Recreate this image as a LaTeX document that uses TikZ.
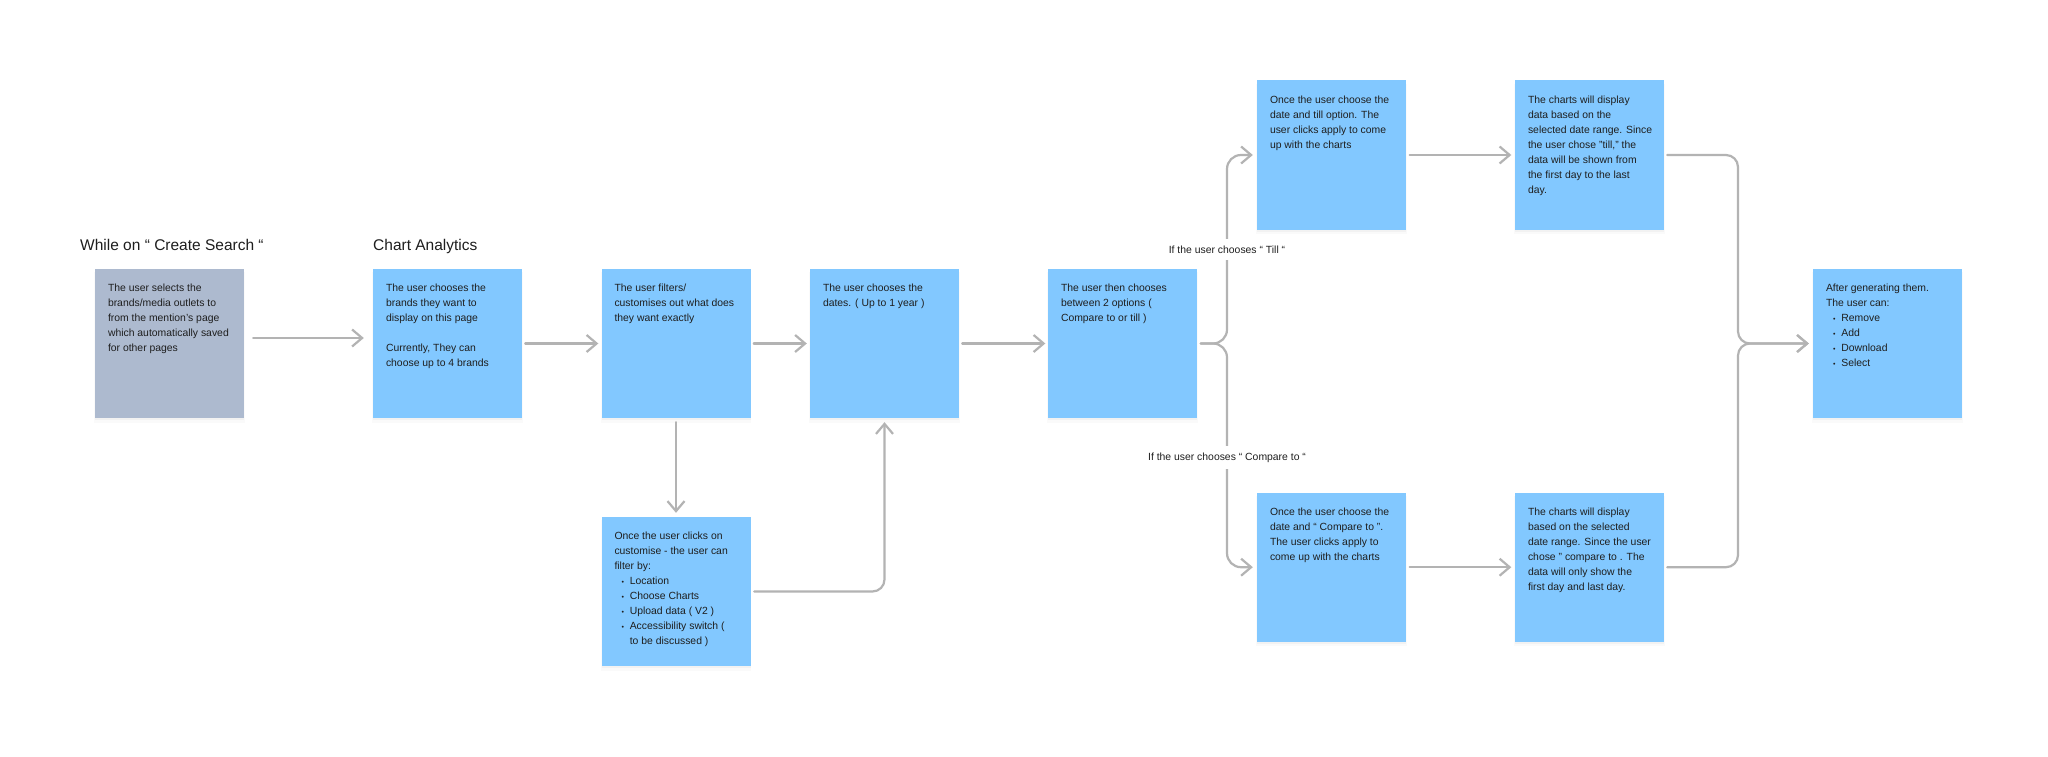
\documentclass[tikz,border=0pt]{standalone}
\usepackage{fontspec}
\setmainfont{Liberation Sans}
\usetikzlibrary{arrows.meta,shadows,calc}
\definecolor{boxblue}{HTML}{82C8FF}
\definecolor{boxgray}{HTML}{ADBACF}
\definecolor{linegray}{HTML}{B3B3B3}
\definecolor{txt}{HTML}{1E1E1E}
\newcommand{\bul}[1]{\hspace*{7pt}\makebox[8.3pt][l]{\raisebox{0.6pt}{\fontsize{7pt}{7pt}\selectfont •}}#1}
\newcommand{\bulcont}[1]{\hspace*{15.3pt}#1}
\newcommand{\cardtext}[1]{\parbox[t]{140pt}{\raggedright #1}}
\begin{document}
\begin{tikzpicture}[x=1pt,y=-1pt,
  card/.style={draw=none, fill=boxblue, minimum width=149pt, minimum height=149pt, inner sep=0pt,
    drop shadow={shadow xshift=0pt, shadow yshift=-2pt, opacity=0.06},
    drop shadow={shadow xshift=0pt, shadow yshift=-4pt, opacity=0.04, shadow scale=1.01}},
  graycard/.style={card, fill=boxgray},
  txtn/.style={anchor=base west, inner sep=0pt, text=txt, font=\fontsize{10.4pt}{15pt}\selectfont},
  conn/.style={draw=linegray, line width=2.2pt, line cap=round, line join=round,
    -{Straight Barb[length=10pt,width=17pt,line width=2.2pt]}},
  ttl/.style={anchor=base west, inner sep=0pt, text=txt, font=\fontsize{15.5pt}{18pt}\selectfont},
  lbl/.style={anchor=base, inner xsep=4pt, inner ysep=6.5pt, fill=white, text=txt, font=\fontsize{10.4pt}{12pt}\selectfont}
]
\useasboundingbox[fill=white] (0,0) rectangle (2048,757);

% titles
\node[ttl] (t1) at (80,250) {While on “ Create Search “};
\node[ttl] (t2) at (373,250) {Chart Analytics};

% cards
\node[graycard] (gray) at (169.5,343.5) {};
\node[card] (chart) at (447.5,343.5) {};
\node[card] (filter) at (676,343.5) {};
\node[card] (dates) at (884.5,343.5) {};
\node[card] (choice) at (1122.5,343.5) {};
\node[card] (custom) at (676,591.5) {};
\node[card] (till) at (1331.5,155) {};
\node[card] (tillres) at (1589.5,155) {};
\node[card] (comp) at (1331.5,567.2) {};
\node[card] (compres) at (1589.5,567.2) {};
\node[card] (final) at (1887.5,343.5) {};

% card texts
\node[txtn] (grayT) at ($(gray.north west)+(13,23)$) {\cardtext{The user selects the\\brands/media outlets to\\from the mention’s page\\which automatically saved\\for other pages}};
\node[txtn] (chartT) at ($(chart.north west)+(13,23)$) {\cardtext{The user chooses the\\brands they want to\\display on this page\\[15pt]Currently, They can\\choose up to 4 brands}};
\node[txtn] (filterT) at ($(filter.north west)+(13,23)$) {\cardtext{The user filters/\\customises out what does\\they want exactly}};
\node[txtn] (datesT) at ($(dates.north west)+(13,23)$) {\cardtext{The user chooses the\\dates. ( Up to 1 year )}};
\node[txtn] (choiceT) at ($(choice.north west)+(13,23)$) {\cardtext{The user then chooses\\between 2 options (\\Compare to or till )}};
\node[txtn] (customT) at ($(custom.north west)+(13,23)$) {\cardtext{Once the user clicks on\\customise - the user can\\filter by:\\\bul{Location}\\\bul{Choose Charts}\\\bul{Upload data ( V2 )}\\\bul{Accessibility switch (}\\\bulcont{to be discussed )}}};
\node[txtn] (tillT) at ($(till.north west)+(13,23)$) {\cardtext{Once the user choose the\\date and till option. The\\user clicks apply to come\\up with the charts}};
\node[txtn] (tillresT) at ($(tillres.north west)+(13,23)$) {\cardtext{The charts will display\\data based on the\\selected date range. Since\\the user chose "till," the\\data will be shown from\\the first day to the last\\day.}};
\node[txtn] (compT) at ($(comp.north west)+(13,23)$) {\cardtext{Once the user choose the\\date and “ Compare to ”.\\The user clicks apply to\\come up with the charts}};
\node[txtn] (compresT) at ($(compres.north west)+(13,23)$) {\cardtext{The charts will display\\based on the selected\\date range. Since the user\\chose " compare to . The\\data will only show the\\first day and last day.}};
\node[txtn] (finalT) at ($(final.north west)+(13,23)$) {\cardtext{After generating them.\\The user can:\\\bul{Remove}\\\bul{Add}\\\bul{Download}\\\bul{Select}}};

% helper coordinates
\coordinate (bx) at (1227,343.5);
\coordinate (mx) at (1738,343.5);

% connectors
\draw[conn, shorten <=9pt, shorten >=9pt] ([yshift=5.5pt]gray.east) -- ([yshift=5.5pt]chart.west);
\draw[conn, shorten <=3pt, shorten >=3pt] (chart.east) -- (filter.west);
\draw[conn, shorten <=3pt, shorten >=3pt] (filter.east) -- (dates.west);
\draw[conn, shorten <=3pt, shorten >=2.5pt] (dates.east) -- (choice.west);
\draw[conn, shorten <=4pt, shorten >=4pt] (filter.south) -- (custom.north);
\draw[conn, rounded corners=12pt, shorten <=3.5pt, shorten >=4pt] (custom.east) -| (dates.south);

\draw[conn, rounded corners=14pt, shorten <=3.5pt, shorten >=4pt] (choice.east) -| (bx |- till.west) -- (till.west);
\draw[conn, rounded corners=14pt, shorten <=3.5pt, shorten >=4pt] (choice.east) -| (bx |- comp.west) -- (comp.west);
\node[lbl] (tillL) at (1227,253) {If the user chooses “ Till “};
\node[lbl] (compL) at (1227,460) {If the user chooses “ Compare to “};

\draw[conn, shorten <=3.5pt, shorten >=3.5pt] (till.east) -- (tillres.west);
\draw[conn, shorten <=3.5pt, shorten >=3.5pt] (comp.east) -- (compres.west);

\draw[conn, rounded corners=12pt, shorten <=3pt, shorten >=4pt] (tillres.east) -| (mx) -- (final.west);
\draw[conn, rounded corners=12pt, shorten <=3pt, shorten >=4pt] (compres.east) -| (mx) -- (final.west);
\end{tikzpicture}
\end{document}
